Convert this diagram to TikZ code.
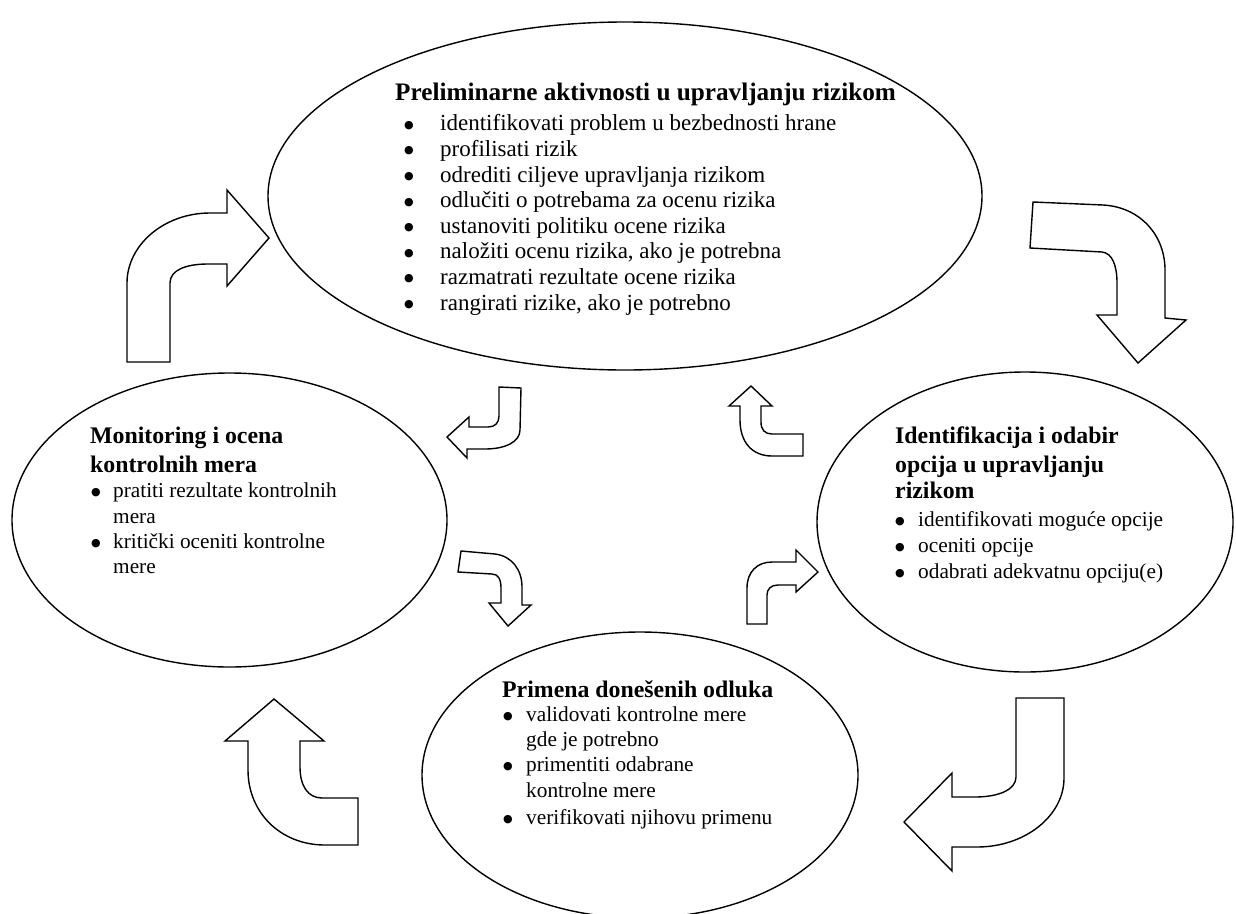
\documentclass[tikz,border=0pt]{standalone}
\usepackage{fontspec}
\setmainfont{Liberation Serif}
\newfontfamily\symf{DejaVu Sans}
\usetikzlibrary{shapes.geometric}
\newcommand\titlef{\fontsize{23.8}{27}\selectfont\bfseries}
\newcommand\bodyf{\fontsize{21.3}{25.6}\selectfont}
\newcommand\toptitlef{\fontsize{25.2}{27}\selectfont\bfseries}
\newcommand\topbodyf{\fontsize{23}{25.6}\selectfont}
% bullet glyph set in a box of the given width (pt), text follows
\newcommand\bul[1]{\makebox[#1pt][l]{\raisebox{2.6pt}{\symf\fontsize{11}{12}\selectfont ●}}}
\begin{document}
\begin{tikzpicture}[x=1pt,y=-1pt,
  stage/.style={ellipse, draw, line width=1.4pt, inner sep=0pt},
  blockarrow/.style={draw, fill=white, line width=1.4pt, line join=miter},
  ttl/.style={anchor=west, inner sep=0pt, font=\titlef, text height=16.2pt, text depth=5.2pt},
  itm/.style={anchor=west, inner sep=0pt, font=\bodyf, text height=14.5pt, text depth=4.7pt}]
\useasboundingbox (0,0) rectangle (1236,913);

% the four stages
\node[stage, minimum width=714pt, minimum height=348pt] (prelim) at (625,196) {};
\node[stage, minimum width=435pt, minimum height=294pt] (monitor) at (229.5,520) {};
\node[stage, minimum width=416pt, minimum height=300pt] (options) at (1025,522) {};
\node[stage, minimum width=436pt, minimum height=286pt] (impl) at (640,775) {};

% large bent arrows (outer cycle)
\draw[blockarrow] (127,362) -- (170,362) -- (170,283) .. controls (170,270) and (186,264) .. (208,264)
  -- (227,264) -- (227,286) -- (269,238) -- (227,190) -- (227,213) -- (210,213)
  .. controls (164,213) and (127,245) .. (127,283) -- cycle;
\draw[blockarrow] (1033,202) -- (1103,205) .. controls (1140,207) and (1165,235) .. (1165,270)
  -- (1165,318) -- (1186,320) -- (1138,363) -- (1097,315) -- (1117,315) -- (1117,283)
  .. controls (1117,265) and (1112,253) .. (1102,252) -- (1030,248) -- cycle;
\draw[blockarrow] (1016,698) -- (1064,698) -- (1064,778) .. controls (1064,816) and (1025,847) .. (977,847)
  -- (952,847) -- (952,871) -- (904,822) -- (952,773) -- (952,797) -- (975,797)
  .. controls (998,797) and (1016,790) .. (1016,777) -- cycle;
\draw[blockarrow] (274,699) -- (324,741) -- (300,741) -- (300,767) .. controls (300,786) and (308,798) .. (322,798)
  -- (358,798) -- (358,845) -- (325,845) .. controls (280,845) and (248,812) .. (248,770)
  -- (248,741) -- (225,741) -- cycle;

% small bent arrows (inner cycle)
\draw[blockarrow] (499,387) -- (521,388) -- (520,430) .. controls (520,442) and (505,449) .. (485,449)
  -- (467,449) -- (467,458) -- (447,437) -- (469,417) -- (469,427) -- (488,427)
  .. controls (495,427) and (499,423) .. (499,416) -- cycle;
\draw[blockarrow] (751,386) -- (772,406) -- (761,406) -- (761,422) .. controls (761,430) and (765,434) .. (772,434)
  -- (803,434) -- (803,456) -- (772,456) .. controls (752,456) and (740,442) .. (740,420)
  -- (740,406) -- (729,406) -- cycle;
\draw[blockarrow] (461,551) -- (495,554) .. controls (512,556) and (522,570) .. (522,587)
  -- (522,605) -- (531,605) -- (508,626) -- (489,603) -- (501,603) -- (501,588)
  .. controls (501,579) and (498,574) .. (492,574) -- (458,572) -- cycle;
\draw[blockarrow] (818,572) -- (796,592) -- (796,585) -- (778,585) .. controls (771,585) and (767,589) .. (767,595)
  -- (767,624) -- (747,624) -- (747,588) .. controls (747,572) and (757,562) .. (772,562)
  -- (796,562) -- (796,550) -- cycle;

% stage texts
\node[ttl, font=\toptitlef] (prelim-title) at (395,95) {Preliminarne aktivnosti u upravljanju rizikom};
\foreach \txt [count=\i] in {identifikovati problem u bezbednosti hrane, profilisati rizik,
    odrediti ciljeve upravljanja rizikom, odlučiti o potrebama za ocenu rizika,
    ustanoviti politiku ocene rizika, {naložiti ocenu rizika, ako je potrebna},
    razmatrati rezultate ocene rizika, {rangirati rizike, ako je potrebno}}
  \node[itm, font=\topbodyf] (prelim-\i) at (404,{126+25.6*(\i-1)}) {\bul{36}\txt};

\node[ttl] (monitor-title1) at (90,438) {Monitoring i ocena};
\node[ttl] (monitor-title2) at (90,467) {kontrolnih mera};
\node[itm] (monitor-1) at (91,493) {\bul{22}pratiti rezultate kontrolnih};
\node[itm] (monitor-1b) at (113,519) {mera};
\node[itm] (monitor-2) at (91,544) {\bul{22}kritički oceniti kontrolne};
\node[itm] (monitor-2b) at (113,569) {mere};

\node[ttl] (options-title1) at (895,438) {Identifikacija i odabir};
\node[ttl] (options-title2) at (895,467) {opcija u upravljanju};
\node[ttl] (options-title3) at (895,493) {rizikom};
\node[itm] (options-1) at (895,522) {\bul{23}identifikovati moguće opcije};
\node[itm] (options-2) at (895,548) {\bul{23}oceniti opcije};
\node[itm] (options-3) at (895,574) {\bul{23}odabrati adekvatnu opciju(e)};

\node[ttl] (impl-title) at (502,692) {Primena donešenih odluka};
\node[itm] (impl-1) at (503,717) {\bul{23}validovati kontrolne mere};
\node[itm] (impl-1b) at (526,742) {gde je potrebno};
\node[itm] (impl-2) at (503,767) {\bul{23}primentiti odabrane};
\node[itm] (impl-2b) at (526,793) {kontrolne mere};
\node[itm] (impl-3) at (503,820) {\bul{23}verifikovati njihovu primenu};
\end{tikzpicture}
\end{document}
